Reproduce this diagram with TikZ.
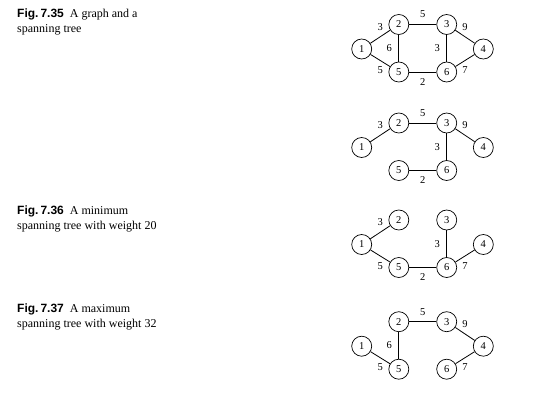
\documentclass[tikz,border=0pt]{standalone}
\usepackage{fontspec}
\setmainfont{Liberation Serif}
\setsansfont{Liberation Sans}
\usetikzlibrary{calc}
\tikzstyle{vertex}=[draw,circle,minimum size=20pt,inner sep=0pt,line width=0.7pt,font=\fontsize{10.5}{12}\selectfont]
\tikzstyle{edge}=[line width=0.8pt]
\tikzstyle{weight}=[inner sep=0pt,font=\fontsize{10.5}{12}\selectfont]
\tikzstyle{caption}=[anchor=north west,align=left,inner sep=0pt,font=\fontsize{12}{14.4}\selectfont]
\newcommand{\figlabel}[1]{{\sffamily\bfseries Fig.\,#1}\enspace}
\newcommand{\drawvertices}[2]{% Syntax: {name prefix}{y of top row}
\pgfmathsetmacro{\toprow}{#2}
\node[vertex] (#1-1) at (361.7,\toprow+24.5) {1};
\node[vertex] (#1-2) at (398.8,\toprow) {2};
\node[vertex] (#1-3) at (446.7,\toprow) {3};
\node[vertex] (#1-4) at (483.3,\toprow+24.5) {4};
\node[vertex] (#1-5) at (398.8,\toprow+47.5) {5};
\node[vertex] (#1-6) at (446.7,\toprow+47.5) {6};
}
\newcommand{\graphedge}[4]{% Syntax: {from}{to}{label side}{weight}
\draw[edge] (#1) -- node[weight,#3] {#4} (#2);
}

\begin{document}
\begin{tikzpicture}[x=1pt,y=-1pt]
\useasboundingbox (0,0) rectangle (537,401);
% captions
\node[caption] (cap35) at (17,9) {\figlabel{7.35}A graph and a\\spanning tree};
\node[caption] (cap36) at (17,206) {\figlabel{7.36}A minimum\\spanning tree with weight 20};
\node[caption] (cap37) at (17,304) {\figlabel{7.37}A maximum\\spanning tree with weight 32};
% the whole graph
\drawvertices{g}{24.5}
\graphedge{g-1}{g-2}{above=6pt}{3}
\graphedge{g-1}{g-5}{below=6pt}{5}
\graphedge{g-2}{g-3}{above=6pt}{5}
\graphedge{g-2}{g-5}{left=6.5pt}{6}
\graphedge{g-3}{g-6}{left=6.5pt}{3}
\graphedge{g-5}{g-6}{below=6pt}{2}
\graphedge{g-3}{g-4}{above=6pt}{9}
\graphedge{g-6}{g-4}{below=6pt}{7}
% a spanning tree
\drawvertices{s}{123}
\graphedge{s-1}{s-2}{above=6pt}{3}
\graphedge{s-2}{s-3}{above=6pt}{5}
\graphedge{s-3}{s-4}{above=6pt}{9}
\graphedge{s-3}{s-6}{left=6.5pt}{3}
\graphedge{s-5}{s-6}{below=6pt}{2}
% minimum
\drawvertices{mn}{220}
\graphedge{mn-1}{mn-2}{above=6pt}{3}
\graphedge{mn-1}{mn-5}{below=6pt}{5}
\graphedge{mn-5}{mn-6}{below=6pt}{2}
\graphedge{mn-3}{mn-6}{left=6.5pt}{3}
\graphedge{mn-6}{mn-4}{below=6pt}{7}
% maximum
\drawvertices{mx}{321.7}
\graphedge{mx-2}{mx-3}{above=6pt}{5}
\graphedge{mx-3}{mx-4}{above=6pt}{9}
\graphedge{mx-2}{mx-5}{left=6.5pt}{6}
\graphedge{mx-1}{mx-5}{below=6pt}{5}
\graphedge{mx-6}{mx-4}{below=6pt}{7}
\end{tikzpicture}
\end{document}
